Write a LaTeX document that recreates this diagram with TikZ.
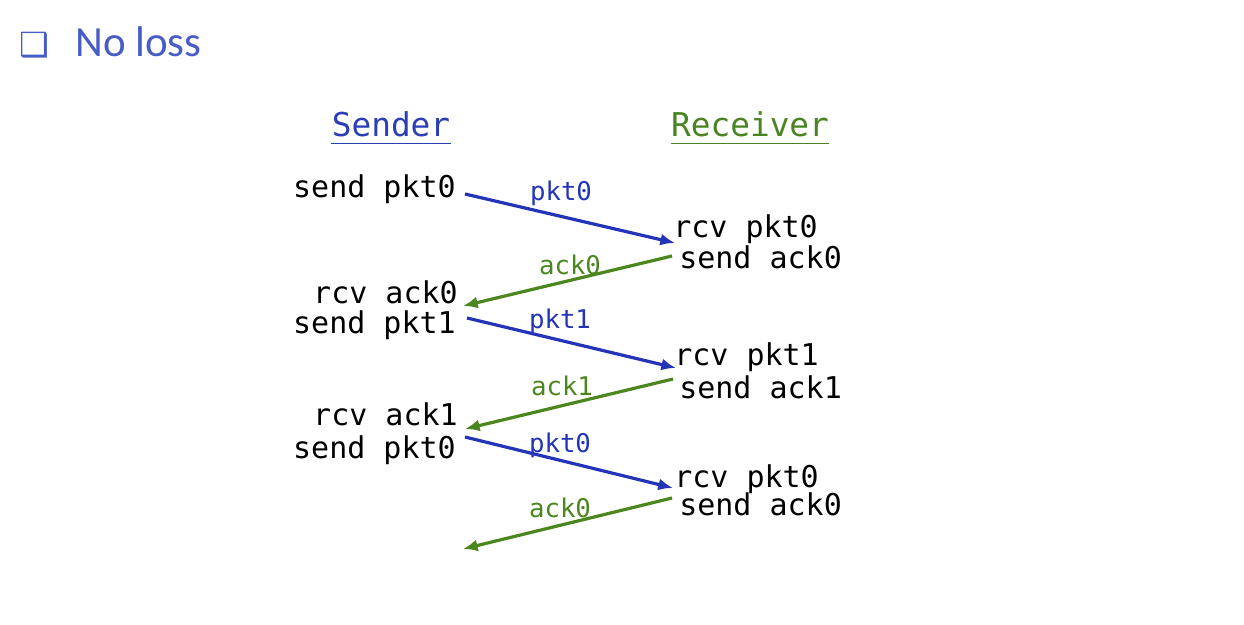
\documentclass[tikz,border=0pt]{standalone}
\usepackage{fontspec}
\setmainfont{Carlito}
\newfontfamily\monof{DejaVu Sans Mono}
\newfontfamily\symf{DejaVu Sans}
\usetikzlibrary{arrows.meta}
\definecolor{titleblue}{RGB}{72,92,200}
\definecolor{sblue}{RGB}{44,62,180}
\definecolor{ablue}{RGB}{36,52,184}
\definecolor{rgreen}{RGB}{74,132,34}
\definecolor{agreen}{RGB}{76,134,30}
\begin{document}
\begin{tikzpicture}[x=0.75pt,y=-0.75pt,
  txt/.style={inner sep=0pt,font=\monof\fontsize{22.5}{26}\selectfont,text=black},
  lbl/.style={inner sep=0pt,anchor=base,font=\monof\fontsize{19.3}{22}\selectfont},
  hdr/.style={inner sep=0pt,anchor=base,font=\monof\fontsize{24.6}{28}\selectfont},
  sl/.style={txt,anchor=base east},
  rl/.style={txt,anchor=base west},
  pktarrow/.style={draw=ablue,line width=2.4pt,-{Latex[length=11pt,width=9pt]}},
  ackarrow/.style={draw=agreen,line width=2.4pt,-{Latex[length=11pt,width=9pt]}}]
\useasboundingbox (0,0) rectangle (1244,624);
\fill[white] (0,0) rectangle (1244,624);
% title
\node[inner sep=0pt,anchor=base west,text=titleblue,font=\symf\fontsize{25}{28}\selectfont] (bul) at (19,57) {❑};
\node[inner sep=0pt,anchor=base west,text=titleblue,font=\fontsize{32.25}{38}\selectfont] (title) at (75,57) {No loss};
% headers
\node[hdr,text=sblue] (snd) at (391,137) {Sender};
\node[hdr,text=rgreen] (rcv) at (750,137) {Receiver};
\draw[sblue,line width=1pt] ([yshift=-5pt]snd.base west) -- ([yshift=-5pt]snd.base east);
\draw[rgreen,line width=1pt] ([yshift=-5pt]rcv.base west) -- ([yshift=-5pt]rcv.base east);
% sender side
\node[sl] (s1) at (456,197) {send pkt0};
\node[sl] (s2) at (458,303) {rcv ack0};
\node[sl] (s3) at (456,333) {send pkt1};
\node[sl] (s4) at (458,425) {rcv ack1};
\node[sl] (s5) at (456,458) {send pkt0};
% receiver side
\node[rl] (r1) at (673,237) {rcv pkt0};
\node[rl] (r2) at (679,268) {send ack0};
\node[rl] (r3) at (674,365) {rcv pkt1};
\node[rl] (r4) at (679,398) {send ack1};
\node[rl] (r5) at (674,487) {rcv pkt0};
\node[rl] (r6) at (679,515) {send ack0};
% arrow end points
\coordinate (a1s) at (465,194); \coordinate (a1e) at (675,243);
\coordinate (a2s) at (672,256); \coordinate (a2e) at (463,306);
\coordinate (a3s) at (467,318); \coordinate (a3e) at (676,368);
\coordinate (a4s) at (673,379); \coordinate (a4e) at (465,429);
\coordinate (a5s) at (465,437); \coordinate (a5e) at (673,488);
\coordinate (a6s) at (672,498); \coordinate (a6e) at (463,549);
\draw[pktarrow] (a1s) -- (a1e);
\draw[ackarrow] (a2s) -- (a2e);
\draw[pktarrow] (a3s) -- (a3e);
\draw[ackarrow] (a4s) -- (a4e);
\draw[pktarrow] (a5s) -- (a5e);
\draw[ackarrow] (a6s) -- (a6e);
% labels
\node[lbl,text=ablue] (l1) at (561,200) {pkt0};
\node[lbl,text=agreen] (l2) at (570,274) {ack0};
\node[lbl,text=ablue] (l3) at (560,328) {pkt1};
\node[lbl,text=agreen] (l4) at (562,395) {ack1};
\node[lbl,text=ablue] (l5) at (560,452) {pkt0};
\node[lbl,text=agreen] (l6) at (560,517) {ack0};
\end{tikzpicture}
\end{document}
